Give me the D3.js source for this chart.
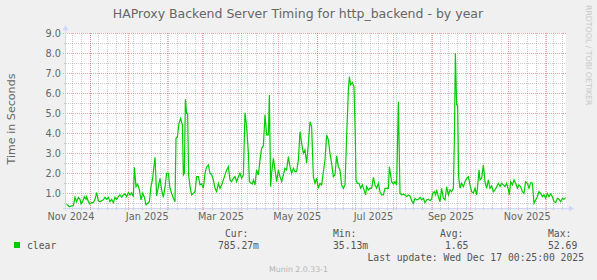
<!DOCTYPE html>
<html><head><meta charset="utf-8">
<script src="https://cdn.jsdelivr.net/npm/d3@7"></script>
<style>body{margin:0;background:#F0F0F0}svg{display:block}</style>
</head><body><svg id="c" width="597" height="280"></svg>
<script>
const title = "HAProxy Backend Server Timing for http_backend - by year";
const yLabel = "Time in Seconds";
const seriesName = "clear";
const endTime = "2025-12-17T00:25:00Z";
const spanDays = 400;
const yDomain = [0.25, 9.0];
const yMajorTicks = [1, 2, 3, 4, 5, 6, 7, 8, 9];
const yMinorTicks = [0.5, 1.5, 2.5, 3.5, 4.5, 5.5, 6.5, 7.5, 8.5];
const statLabels = ["Cur:", "Min:", "Avg:", "Max:"];
const statValues = ["785.27m", "35.13m", "1.65", "52.69"];
const lastUpdate = "Last update: Wed Dec 17 00:25:00 2025";
const watermark = "Munin 2.0.33-1";
const sideText = "RRDTOOL / TOBI OETIKER";
// days after the start of the 400-day window
const dayOffsets = [
0.5,2.7,4.5,5.9,7.2,8.5,9.9,11.2,12.0,13.3,14.7,16.0,16.5,17.9,19.2,20.5,21.9,23.2,24.5,25.9,
27.2,28.5,29.9,31.2,32.5,33.9,35.2,36.5,37.9,39.2,40.5,41.9,43.2,44.5,45.9,47.2,48.5,49.9,51.2,52.5,
53.9,54.7,56.0,57.3,58.7,60.0,61.3,62.7,64.0,65.3,66.7,68.0,69.3,71.2,72.5,73.9,75.2,76.5,77.9,79.2,
80.5,81.9,83.2,84.5,85.9,87.2,88.0,89.1,90.4,91.7,93.1,93.9,94.7,95.5,96.5,97.3,98.1,99.2,100.5,101.9,
103.2,104.5,105.9,107.2,108.5,109.9,111.2,112.5,113.9,115.2,
116.5,117.9,119.2,120.5,121.9,123.2,124.5,125.9,127.2,128.5,129.9,131.2,132.5,133.9,135.2,136.5,137.9,139.2,140.5,141.9,
143.2,144.5,145.9,146.7,147.7,149.1,149.9,151.2,152.5,153.9,155.2,156.5,157.9,159.2,160.5,161.9,162.7,163.7,164.5,165.9,
167.2,168.5,169.9,171.2,172.5,173.9,175.2,176.5,177.9,179.2,180.5,181.9,183.2,184.5,185.9,187.2,188.5,189.9,191.2,192.5,
193.9,195.2,196.5,197.9,199.2,200.5,201.9,203.2,204.5,205.9,207.2,208.5,209.9,211.2,212.5,213.9,215.2,216.5,217.9,219.2,
220.5,221.9,223.2,224.5,225.9,226.7,227.7,229.1,230.4,231.5,232.0,233.1,234.4,235.7,237.1,238.4,239.7,240.5,241.9,243.2,
244.5,245.9,247.2,248.5,249.9,251.2,252.5,253.9,255.2,256.5,257.9,258.7,
260.5,261.9,263.2,264.5,265.9,267.2,268.5,269.9,271.2,272.5,273.9,275.2,276.5,277.9,279.2,280.5,281.9,283.2,284.5,285.9,
287.2,288.5,289.9,291.2,292.5,293.3,294.7,295.7,296.5,297.9,299.2,300.5,301.9,303.2,304.5,305.9,307.2,308.5,309.9,310.7,
311.5,312.5,313.3,314.1,315.2,316.5,317.9,319.2,320.5,321.9,323.2,324.5,325.9,327.2,328.5,329.3,330.4,331.2,332.5,333.9,
335.2,336.5,337.9,339.2,340.5,341.9,343.2,344.5,345.9,347.2,348.5,349.9,351.2,352.5,353.9,354.7,355.7,357.1,358.4,359.7,
361.1,362.4,363.7,365.1,366.4,367.7,369.1,370.4,371.7,373.1,374.4,375.7,377.1,378.4,379.7,381.1,382.4,383.7,385.1,386.4,
387.7,389.1,390.4,391.7,393.1,394.4,395.7,397.1,398.4,399.7
];
const values = [
0.45,0.33,0.37,0.38,0.80,0.58,0.80,0.70,0.47,0.58,0.83,0.70,0.83,0.58,0.47,0.53,0.53,0.70,1.03,0.62,
0.58,0.63,0.67,0.80,0.70,0.80,0.58,0.70,0.53,0.80,0.70,0.83,0.92,0.80,0.92,0.97,0.83,1.03,0.92,1.03,
0.83,2.30,1.33,1.46,1.17,0.67,1.00,0.80,0.42,0.50,0.58,1.33,1.75,2.80,0.87,1.33,1.75,1.17,0.80,1.33,
2.00,2.00,1.25,1.00,0.75,0.58,3.75,3.83,4.50,4.75,4.42,1.92,2.00,5.70,5.00,5.00,1.92,1.33,0.92,1.00,
1.08,1.83,1.83,1.42,1.47,1.25,2.00,2.33,2.42,2.00,
1.92,1.67,1.25,1.08,1.50,1.25,1.42,1.67,1.92,2.17,2.33,1.67,1.58,1.75,1.83,1.58,1.83,2.00,1.75,1.92,
5.03,4.33,3.00,1.58,1.53,1.47,1.67,1.42,2.17,1.92,2.67,3.25,3.37,4.92,3.92,3.92,5.92,1.33,2.00,2.75,
2.17,1.58,2.17,1.83,1.58,1.92,2.25,2.17,2.83,2.33,2.00,2.25,2.08,2.08,2.67,4.08,3.50,3.00,3.17,2.50,
3.50,4.58,4.33,1.83,1.50,1.75,1.25,1.50,1.42,2.08,2.67,3.92,3.67,3.00,2.50,1.83,1.92,2.87,2.33,2.17,
1.42,1.25,1.42,3.83,6.17,6.83,6.42,6.53,6.33,3.67,1.67,1.50,1.50,1.25,1.42,1.17,0.92,1.33,1.17,1.25,
1.25,1.80,1.42,1.25,1.50,1.08,0.92,0.92,1.25,1.25,1.25,2.33,
1.58,1.47,1.58,1.42,5.58,1.00,0.92,0.97,0.92,0.83,0.92,0.87,0.63,0.50,0.75,0.67,0.70,0.80,0.67,0.75,
0.53,0.67,0.70,0.63,0.70,1.00,1.08,0.92,1.17,0.83,0.58,1.25,0.75,0.67,1.33,0.92,1.17,1.08,1.25,3.67,
8.00,5.42,5.42,1.83,1.25,1.50,1.33,1.58,1.75,1.83,1.42,1.08,1.00,1.25,0.92,1.33,2.17,1.67,1.75,2.42,
1.58,1.25,1.67,1.25,1.37,1.08,1.17,1.33,1.50,1.33,1.50,1.42,1.33,1.50,1.17,0.92,1.58,1.42,1.67,1.50,
1.25,1.42,1.33,1.08,1.00,1.58,1.50,1.25,1.53,1.50,0.50,0.67,0.83,1.08,1.00,0.83,0.92,0.75,1.00,0.83,
0.97,0.83,0.58,0.53,0.75,0.70,0.58,0.75,0.70,0.785
];

const svg = d3.select("#c");
const W = 597, H = 280;
const plot = {left: 66, right: 566, top: 33.3, bottom: 208.3};
const end = new Date(endTime);
const start = d3.utcDay.offset(end, -spanDays);
const x = d3.scaleUtc().domain([start, end]).range([plot.left, plot.right]);
const y = d3.scaleLinear().domain(yDomain).range([plot.bottom, plot.top]);
const px = v => Math.round(v) + 0.5;

svg.append("rect").attr("width", W).attr("height", H).attr("fill", "#F0F0F0");
svg.append("rect").attr("x", plot.left).attr("y", Math.round(plot.top))
  .attr("width", plot.right - plot.left).attr("height", Math.round(plot.bottom) - Math.round(plot.top))
  .attr("fill", "#FFFFFF");

const grid = svg.append("g").attr("shape-rendering", "crispEdges");
const minorCol = "rgba(143,143,143,0.45)", majorCol = "rgba(222,79,79,0.5)";
// horizontal grid
yMinorTicks.forEach(v => {
  grid.append("line").attr("x1", plot.left - 2).attr("x2", plot.right).attr("y1", px(y(v))).attr("y2", px(y(v)))
    .attr("stroke", minorCol).attr("stroke-dasharray", "1,1");
});
yMajorTicks.forEach(v => {
  grid.append("line").attr("x1", plot.left - 3).attr("x2", plot.right).attr("y1", px(y(v))).attr("y2", px(y(v)))
    .attr("stroke", majorCol).attr("stroke-dasharray", "1,1");
});
// vertical grid
const weeks = d3.utcSunday.range(start, end);
weeks.forEach(d => {
  grid.append("line").attr("x1", px(x(d))).attr("x2", px(x(d))).attr("y1", plot.top).attr("y2", plot.bottom + 2)
    .attr("stroke", minorCol).attr("stroke-dasharray", "1,1");
});
const months = d3.utcMonth.range(start, end);
months.forEach(d => {
  grid.append("line").attr("x1", px(x(d))).attr("x2", px(x(d))).attr("y1", plot.top).attr("y2", plot.bottom + 3)
    .attr("stroke", majorCol).attr("stroke-dasharray", "1,1");
});

// axes
const axisCol = "#CFD6F8";
const ax = svg.append("g").attr("shape-rendering", "crispEdges");
ax.append("line").attr("x1", plot.left - 3).attr("x2", plot.right + 4).attr("y1", px(plot.bottom)).attr("y2", px(plot.bottom)).attr("stroke", axisCol);
ax.append("line").attr("x1", px(plot.left - 1)).attr("x2", px(plot.left - 1)).attr("y1", plot.bottom + 3).attr("y2", plot.top - 4).attr("stroke", axisCol);
const by = px(plot.bottom), lx = px(plot.left - 1);
svg.append("path").attr("d", `M${plot.right + 3},${by - 3}L${plot.right + 8},${by}L${plot.right + 3},${by + 3}Z`).attr("fill", axisCol);
svg.append("path").attr("d", `M${lx - 3},${plot.top - 3}L${lx},${plot.top - 8}L${lx + 3},${plot.top - 3}Z`).attr("fill", axisCol);

// data line
const pts = dayOffsets.map((d, i) => ({t: new Date(start.getTime() + d * 864e5), v: values[i]}));
svg.append("defs").append("clipPath").attr("id", "clip").append("rect")
  .attr("x", plot.left).attr("y", plot.top - 8).attr("width", plot.right - plot.left).attr("height", plot.bottom - plot.top + 8);
svg.append("path").datum(pts).attr("clip-path", "url(#clip)")
  .attr("d", d3.line().x(p => x(p.t)).y(p => y(p.v)))
  .attr("fill", "none").attr("stroke", "#00CC00").attr("stroke-width", 1.2).attr("stroke-linejoin", "miter");

const font = "DejaVu Sans", mono = "DejaVu Sans Mono", fontCol = "#666666";
// y tick labels
yMajorTicks.forEach(v => {
  svg.append("text").attr("x", 61).attr("y", y(v)).attr("dy", "0.36em").attr("text-anchor", "end")
    .attr("font-family", font).attr("font-size", 9.72).attr("fill", fontCol).text(d3.format(".1f")(v));
});
// x labels (centered half a month after month start)
const labelMonths = d3.utcMonth.every(2).range(d3.utcMonth.floor(start), end)
  .map(m => ({m, c: new Date(m.getTime() + 15 * 864e5)})).filter(o => o.c >= start && o.c <= end);
labelMonths.forEach(o => {
  svg.append("text").attr("x", x(o.c)).attr("y", 220).attr("text-anchor", "middle")
    .attr("font-family", font).attr("font-size", 9.72).attr("fill", fontCol).text(d3.utcFormat("%b %Y")(o.m));
});
// title
svg.append("text").attr("x", 298).attr("y", 17.5).attr("text-anchor", "middle")
  .attr("font-family", font).attr("font-size", 12.5).attr("fill", fontCol).text(title);
// y axis title
svg.append("text").attr("transform", "translate(15,119) rotate(-90)").attr("text-anchor", "middle")
  .attr("font-family", font).attr("font-size", 11.1).attr("fill", fontCol).text(yLabel);
// side text
svg.append("text").attr("transform", "translate(585.5,5) rotate(90)").attr("text-anchor", "start")
  .attr("font-family", font).attr("font-size", 7.8).attr("fill", "#C8C8C8").text(sideText);
// watermark
svg.append("text").attr("x", 298.5).attr("y", 272).attr("text-anchor", "middle")
  .attr("font-family", font).attr("font-size", 7.8).attr("fill", "#B4B4B4").text(watermark);

// legend
svg.append("rect").attr("x", 14).attr("y", 242).attr("width", 6).attr("height", 6).attr("fill", "#00CC00");
const leg = (t, xx, yy, anchor) => svg.append("text").attr("x", xx).attr("y", yy).attr("text-anchor", anchor || "start")
  .attr("font-family", mono).attr("font-size", 9.72).attr("fill", "#555555").attr("xml:space", "preserve").text(t);
leg(seriesName, 27, 249);
const labelX = [225, 333, 440, 548];
const valueX = [218, 333, 445, 548];
statLabels.forEach((s, i) => leg(s, labelX[i], 237));
statValues.forEach((s, i) => leg(s, valueX[i], 249));
leg(lastUpdate, 584, 260.5, "end");
</script></body></html>
